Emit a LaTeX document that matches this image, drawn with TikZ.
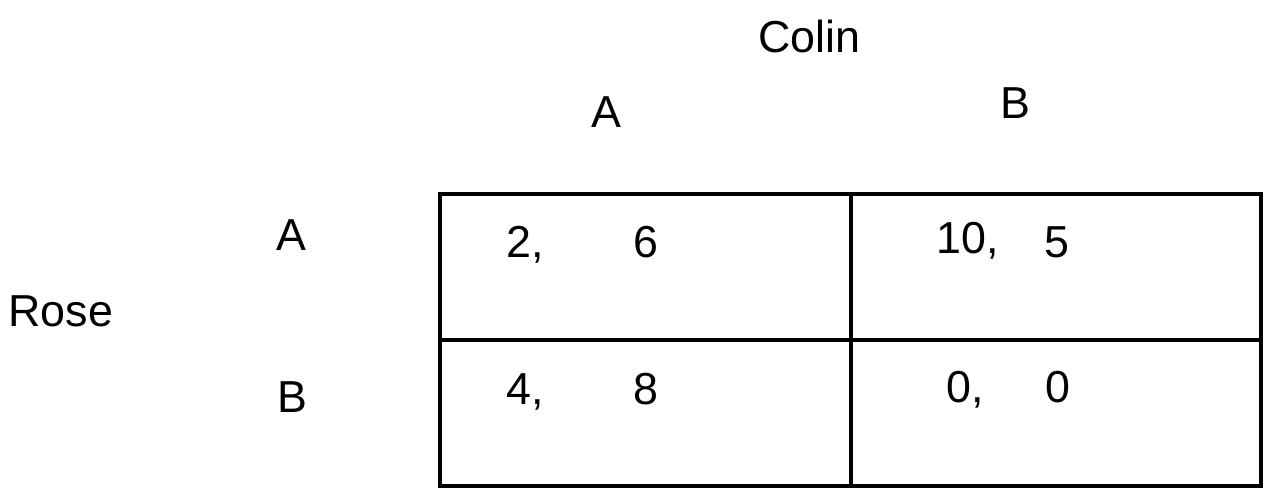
\documentclass[tikz,border=0pt]{standalone}
\usepackage{fontspec}
\setmainfont{Liberation Sans}

\begin{document}
\begin{tikzpicture}[
    x=0.5pt, y=-0.5pt,
    label/.style={anchor=base west, inner sep=0pt,
        font=\fontsize{22.4}{26}\selectfont},
    grid/.style={line width=2pt, line join=miter}
]
    \useasboundingbox (0,0) rectangle (1269,498);
    % players and strategies
    \node[label] (colin) at (758,53) {Colin};
    \node[label] (colA) at (591,127) {A};
    \node[label] (colB) at (1000,118) {B};
    \node[label] (rose) at (8,326) {Rose};
    \node[label] (rowA) at (276,250) {A};
    \node[label] (rowB) at (277,412) {B};
    % payoff table
    \coordinate (nw) at (440,194);
    \coordinate (se) at (1261,486);
    \coordinate (n) at (851,194);
    \coordinate (s) at (851,486);
    \coordinate (w) at (440,340);
    \coordinate (e) at (1261,340);
    \draw[grid] (nw) rectangle (se);
    \draw[grid] (n) -- (s);
    \draw[grid] (w) -- (e);
    % payoffs
    \node[label] (aa1) at (506,257) {2,};
    \node[label] (aa2) at (633,257) {6};
    \node[label] (ab1) at (936,253) {10,};
    \node[label] (ab2) at (1044,257) {5};
    \node[label] (ba1) at (506,404) {4,};
    \node[label] (ba2) at (633,404) {8};
    \node[label] (bb1) at (946,402) {0,};
    \node[label] (bb2) at (1045,402) {0};
\end{tikzpicture}
\end{document}
